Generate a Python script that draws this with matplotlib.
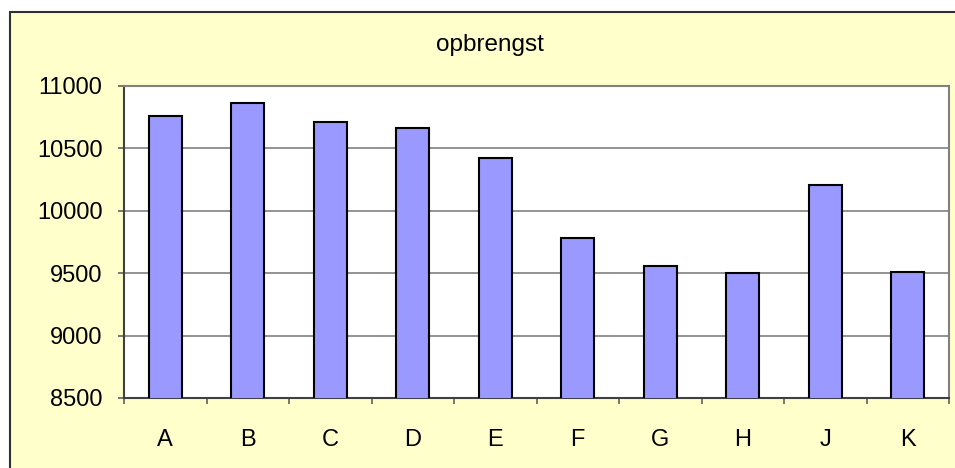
import numpy as np
import matplotlib
matplotlib.use("Agg")
import matplotlib.pyplot as plt
from matplotlib.patches import Rectangle

categories = ["A", "B", "C", "D", "E", "F", "G", "H", "J", "K"]
opbrengst = [10760, 10860, 10715, 10665, 10425, 9785, 9560, 9500, 10205, 9510]
y_ticks = [8500, 9000, 9500, 10000, 10500, 11000]

plt.rcParams["font.family"] = ["Liberation Sans", "DejaVu Sans"]

fig = plt.figure(figsize=(9.55, 4.68), dpi=100)
fig.patch.set_facecolor("white")
# chart area border (yellow background), kept behind the axes
fig.patches.append(Rectangle((10 / 955, -0.1), 1.2, (468 - 12) / 468 + 0.1,
                             transform=fig.transFigure, facecolor="#FFFFCC",
                             edgecolor="#303030", lw=1.5, zorder=-5))

ax = fig.add_axes([124 / 955, 1 - 398 / 468, (949 - 124) / 955, (398 - 86) / 468])
ax.set_zorder(2)
ax.set_facecolor("white")

x = np.arange(len(categories))
ax.bar(x, opbrengst, 0.4, color="#9999FF", edgecolor="black", lw=1.5, zorder=3)

ax.set_xlim(-0.5, len(categories) - 0.5)
ax.set_ylim(8500, 11000)
ax.set_yticks(y_ticks)
ax.set_yticklabels([str(v) for v in y_ticks], fontsize=17)
ax.yaxis.grid(True, color="#808080", lw=1.2, zorder=1)

ax.set_xticks(x)
ax.set_xticklabels(categories, fontsize=17)
ax.set_xticks(np.arange(len(categories) + 1) - 0.5, minor=True)
ax.tick_params(axis="x", which="major", length=0, pad=22)
ax.tick_params(axis="x", which="minor", length=4.5, width=1.2, color="#606060")
ax.tick_params(axis="y", length=4.5, width=1.2, color="#606060", pad=11)

for s in ("top", "right"):
    ax.spines[s].set_color("#808080")
    ax.spines[s].set_linewidth(1.5)
for s in ("left", "bottom"):
    ax.spines[s].set_color("#404040")
    ax.spines[s].set_linewidth(1.5)

fig.text(490 / 955, 1 - 45 / 468, "opbrengst", ha="center", va="center", fontsize=17.5)

fig.savefig("out.png", dpi=100, facecolor=fig.get_facecolor())
plt.close()
